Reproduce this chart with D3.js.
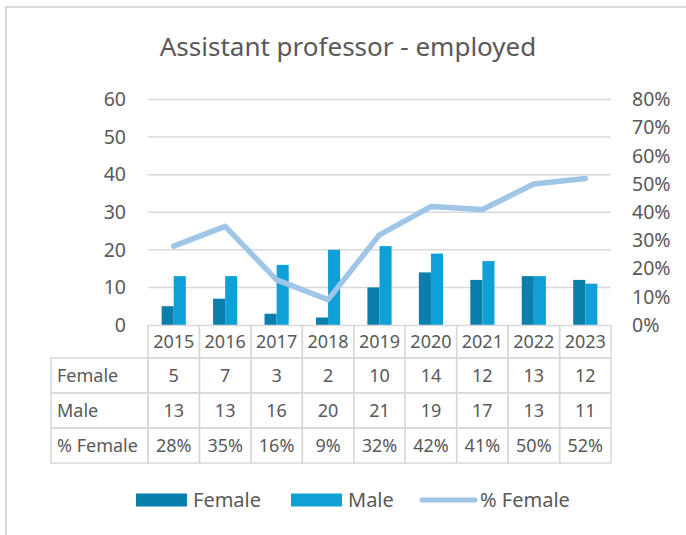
<!doctype html>
<html>
<head>
<meta charset="UTF-8">
<title>Assistant professor - employed</title>
<script src="https://d3js.org/d3.v7.min.js"></script>
<style>
  body { margin: 0; background: #fff; }
  svg text { font-family: "Noto Sans", "Open Sans", sans-serif; fill: #595959; }
</style>
</head>
<body>
<svg id="chart" width="686" height="535"></svg>
<script>
// data
var years = ["2015","2016","2017","2018","2019","2020","2021","2022","2023"];
var female = [5, 7, 3, 2, 10, 14, 12, 13, 12];
var male = [13, 13, 16, 20, 21, 19, 17, 13, 11];
var pctFemale = [0.28, 0.35, 0.16, 0.09, 0.32, 0.42, 0.41, 0.50, 0.52];
var leftTicks = [0, 10, 20, 30, 40, 50, 60];
var rightTicks = [0, 0.1, 0.2, 0.3, 0.4, 0.5, 0.6, 0.7, 0.8];
var seriesNames = ["Female", "Male", "% Female"];
var colors = ["#0b7fab", "#0fa0d8", "#9fc6e7"];

var svg = d3.select("#chart");
var W = 686, H = 535;

// outer chart border (runs off right/bottom)
svg.append("rect")
  .attr("x", 6).attr("y", 7)
  .attr("width", W + 10).attr("height", H + 10)
  .attr("fill", "#fff").attr("stroke", "#d9d9d9").attr("stroke-width", 2);

// title
svg.append("text")
  .attr("x", 348).attr("y", 56)
  .attr("text-anchor", "middle")
  .attr("font-size", 26)
  .text("Assistant professor - employed");

var plotL = 148, plotR = 611, plotT = 99.5, plotB = 325;

var x = d3.scaleBand().domain(years).range([plotL, plotR]).padding(0);
var y = d3.scaleLinear().domain([0, 60]).range([plotB, plotT]);
var y2 = d3.scaleLinear().domain([0, 0.8]).range([plotB, plotT]);
var groupW = x.bandwidth() * 0.47;
var x1 = d3.scaleBand().domain(["f", "m"]).range([0, groupW]).padding(0);

// gridlines
svg.append("g").selectAll("line")
  .data(leftTicks.filter(function(d){ return d > 0; }))
  .enter().append("line")
  .attr("x1", plotL).attr("x2", plotR)
  .attr("y1", function(d){ return y(d); })
  .attr("y2", function(d){ return y(d); })
  .attr("stroke", "#d9d9d9").attr("stroke-width", 1.5);

// left axis
var leftAxis = d3.axisLeft(y).tickValues(leftTicks).tickSize(0).tickPadding(0);
var gl = svg.append("g").attr("transform", "translate(126,0)").call(leftAxis);
gl.select(".domain").remove();
gl.selectAll("text").attr("font-size", 19.5).attr("fill", "#595959")
  .style("font-family", '"Noto Sans", sans-serif');

// right axis
var rightAxis = d3.axisRight(y2).tickValues(rightTicks).tickSize(0).tickPadding(0)
  .tickFormat(d3.format(".0%"));
var gr = svg.append("g").attr("transform", "translate(632,0)").call(rightAxis);
gr.select(".domain").remove();
gr.selectAll("text").attr("font-size", 19.5).attr("fill", "#595959")
  .style("font-family", '"Noto Sans", sans-serif');

// bars
var groups = svg.append("g").selectAll("g")
  .data(years).enter().append("g")
  .attr("transform", function(d){ return "translate(" + (x(d) + (x.bandwidth() - groupW) / 2) + ",0)"; });
groups.append("rect")
  .attr("x", x1("f")).attr("width", x1.bandwidth())
  .attr("y", function(d, i){ return y(female[i]); })
  .attr("height", function(d, i){ return y(0) - y(female[i]); })
  .attr("fill", colors[0]);
groups.append("rect")
  .attr("x", x1("m")).attr("width", x1.bandwidth())
  .attr("y", function(d, i){ return y(male[i]); })
  .attr("height", function(d, i){ return y(0) - y(male[i]); })
  .attr("fill", colors[1]);

// % female line
var line = d3.line()
  .x(function(d, i){ return x(years[i]) + x.bandwidth() / 2; })
  .y(function(d){ return y2(d); });
svg.append("path").datum(pctFemale)
  .attr("d", line).attr("fill", "none")
  .attr("stroke", colors[2]).attr("stroke-width", 5.5)
  .attr("stroke-linejoin", "round").attr("stroke-linecap", "round");

// data table
var rowLabelL = 51;
var rowH = 35;
var headT = 325.5, headB = 358;
var rows = [
  { name: seriesNames[0], vals: female.map(String) },
  { name: seriesNames[1], vals: male.map(String) },
  { name: seriesNames[2], vals: pctFemale.map(d3.format(".0%")) }
];
var tbl = svg.append("g");
var border = "#d9d9d9";

// header cells
tbl.selectAll("rect.hd").data(years).enter().append("rect")
  .attr("class", "hd")
  .attr("x", function(d){ return x(d); }).attr("y", headT)
  .attr("width", x.bandwidth()).attr("height", headB - headT)
  .attr("fill", "none").attr("stroke", border).attr("stroke-width", 1.5);
tbl.selectAll("text.hd").data(years).enter().append("text")
  .attr("class", "hd")
  .attr("x", function(d){ return x(d) + x.bandwidth() / 2; })
  .attr("y", (headT + headB) / 2).attr("dy", "0.36em")
  .attr("text-anchor", "middle").attr("font-size", 18)
  .text(function(d){ return d; });

rows.forEach(function(r, ri){
  var top = headB + ri * rowH;
  tbl.append("rect")
    .attr("x", rowLabelL).attr("y", top)
    .attr("width", plotL - rowLabelL).attr("height", rowH)
    .attr("fill", "none").attr("stroke", border).attr("stroke-width", 1.5);
  tbl.append("text")
    .attr("x", rowLabelL + 6).attr("y", top + rowH / 2).attr("dy", "0.36em")
    .attr("font-size", 18).text(r.name);
  years.forEach(function(yr, ci){
    tbl.append("rect")
      .attr("x", x(yr)).attr("y", top)
      .attr("width", x.bandwidth()).attr("height", rowH)
      .attr("fill", "none").attr("stroke", border).attr("stroke-width", 1.5);
    tbl.append("text")
      .attr("x", x(yr) + x.bandwidth() / 2).attr("y", top + rowH / 2).attr("dy", "0.36em")
      .attr("text-anchor", "middle").attr("font-size", 18)
      .text(r.vals[ci]);
  });
});

// legend
var legY = 500;
var leg = svg.append("g");
var legItems = [
  { name: seriesNames[0], x: 136, type: "rect" },
  { name: seriesNames[1], x: 291, type: "rect" },
  { name: seriesNames[2], x: 420, type: "line" }
];
legItems.forEach(function(it, i){
  if (it.type === "rect") {
    leg.append("rect").attr("x", it.x).attr("y", legY - 6.5)
      .attr("width", 51).attr("height", 13).attr("fill", colors[i]);
    leg.append("text").attr("x", it.x + 57).attr("y", legY).attr("dy", "0.36em")
      .attr("font-size", 20).text(it.name);
  } else {
    leg.append("line").attr("x1", it.x + 2).attr("x2", it.x + 55)
      .attr("y1", legY).attr("y2", legY)
      .attr("stroke", colors[i]).attr("stroke-width", 5).attr("stroke-linecap", "round");
    leg.append("text").attr("x", it.x + 60).attr("y", legY).attr("dy", "0.36em")
      .attr("font-size", 20).text(it.name);
  }
});
</script>
</body>
</html>
